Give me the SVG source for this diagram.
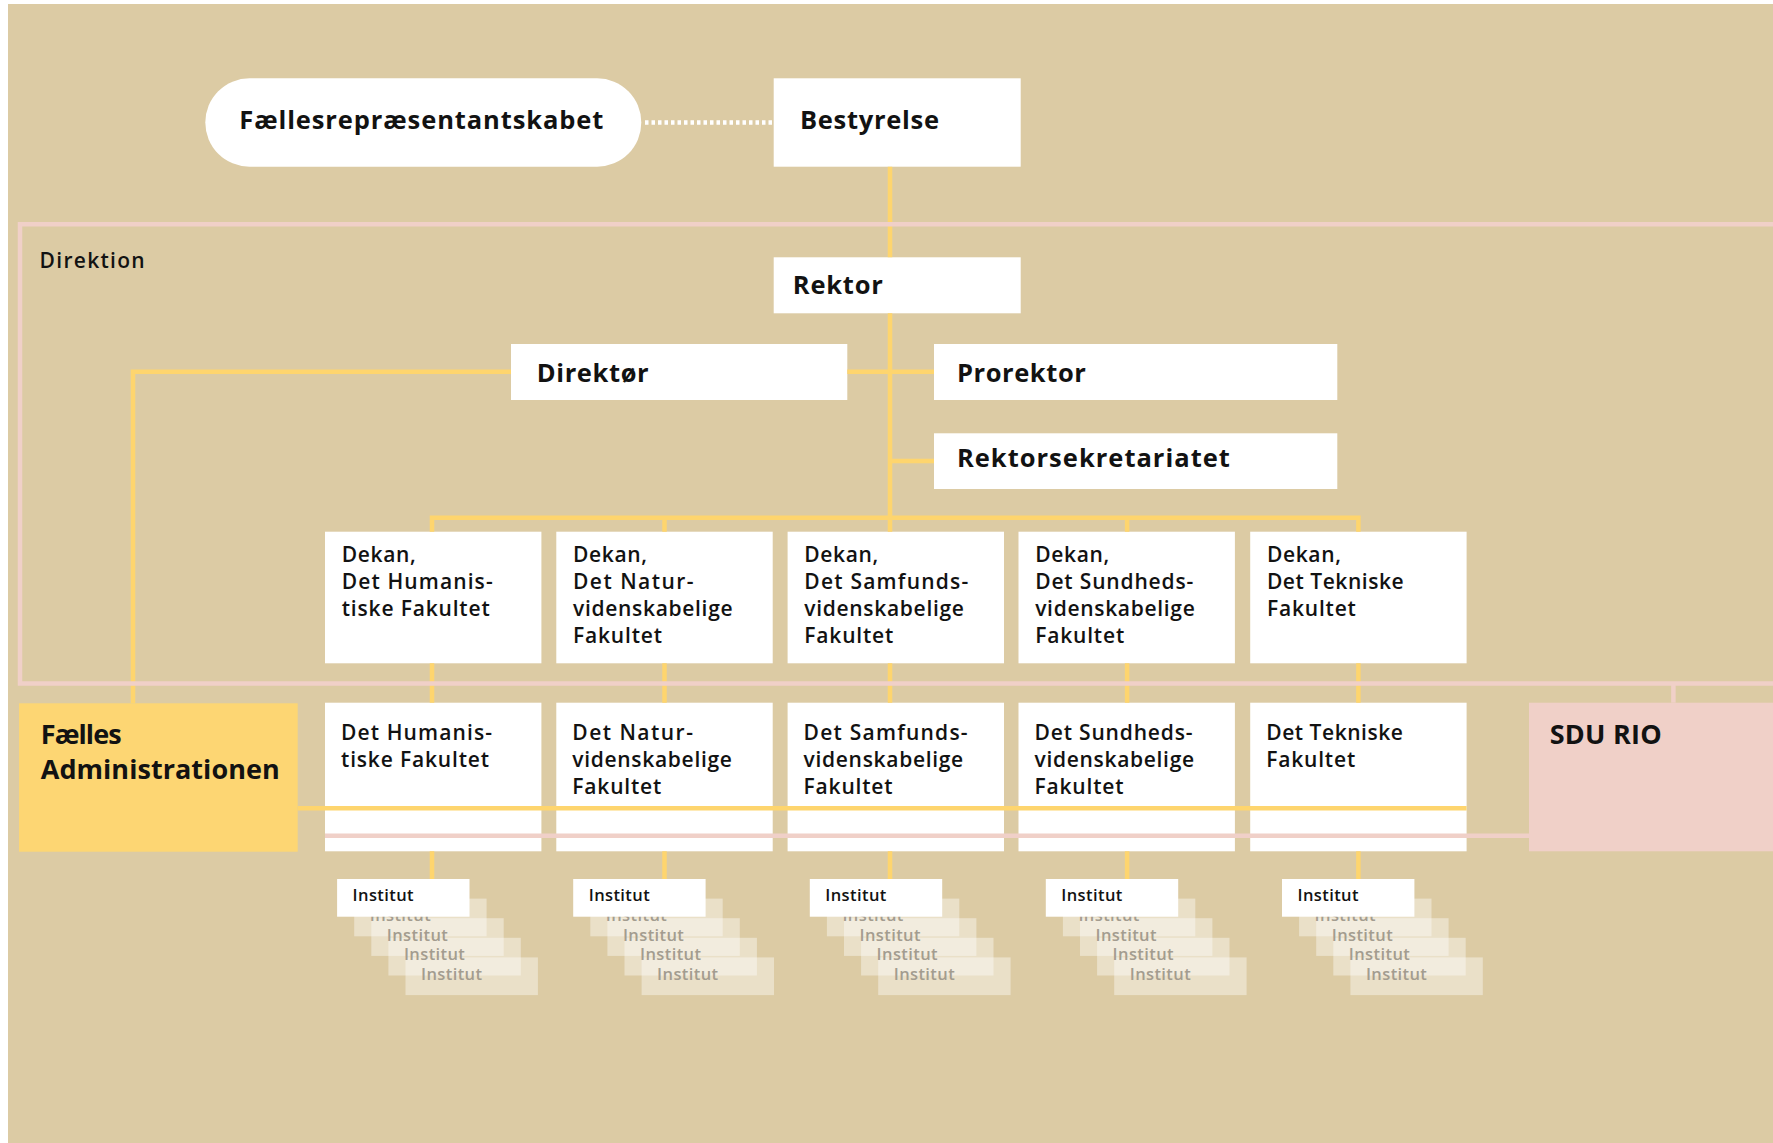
<svg xmlns="http://www.w3.org/2000/svg" width="1773" height="1143" viewBox="0 0 1773 1143">
<style>
text{font-family:'Open Sans','DejaVu Sans',sans-serif;font-weight:600;fill:#121212}
.big{font-size:25.5px;font-weight:700}
.mid{font-size:21px}
.xl{font-size:27px;font-weight:700}
.sm{font-size:16.5px}
.ghost{fill:#a39c8f}
.box{fill:#ffffff}
.yl{fill:none;stroke:#fed56e;stroke-width:4.5}
.pk{fill:none;stroke:#f0d0c8;stroke-width:4.5}
.back{fill:#ffffff;fill-opacity:0.4}
</style>
<rect width="1773" height="1143" fill="#ffffff"/>
<rect x="8" y="4" width="1765" height="1139" fill="#dccba4"/>

<g id="faellesrepraesentantskabet">
<rect class="box" x="205.3" y="78.3" width="436" height="88.4" rx="44.2"/>
<text class="big" x="239.3" y="128.5" textLength="364">Fællesrepræsentantskabet</text>
</g>
<g id="bestyrelse">
<rect class="box" x="773.7" y="78.3" width="247" height="88.4"/>
<text class="big" x="800" y="129" textLength="139">Bestyrelse</text>
</g>
<g id="rektor">
<rect class="box" x="773.7" y="257.3" width="247" height="56"/>
<text class="big" x="792.8" y="294.3" textLength="90">Rektor</text>
</g>
<g id="direktoer">
<rect class="box" x="511" y="344" width="336.3" height="56"/>
<text class="big" x="536.7" y="381.7" textLength="112">Direktør</text>
</g>
<g id="prorektor">
<rect class="box" x="934" y="344" width="403.3" height="56"/>
<text class="big" x="956.9" y="381.7" textLength="129">Prorektor</text>
</g>
<g id="rektorsekretariatet">
<rect class="box" x="934" y="433.3" width="403.3" height="55.7"/>
<text class="big" x="956.9" y="466.5" textLength="273">Rektorsekretariatet</text>
</g>

<g id="dekan-hum">
<rect class="box" x="325" y="531.7" width="216.4" height="131.6"/>
<text class="mid" x="341.7" y="561.7" textLength="74">Dekan,</text>
<text class="mid" x="341.7" y="588.7" textLength="151">Det Humanis-</text>
<text class="mid" x="341.7" y="615.7" textLength="148">tiske Fakultet</text>
</g>
<g id="dekan-nat">
<rect class="box" x="556.3" y="531.7" width="216.4" height="131.6"/>
<text class="mid" x="573" y="561.7" textLength="74">Dekan,</text>
<text class="mid" x="573" y="588.7" textLength="120.6">Det Natur-</text>
<text class="mid" x="573" y="615.7" textLength="159.6">videnskabelige</text>
<text class="mid" x="573" y="642.7" textLength="89">Fakultet</text>
</g>
<g id="dekan-sam">
<rect class="box" x="787.6" y="531.7" width="216.4" height="131.6"/>
<text class="mid" x="804.3" y="561.7" textLength="74">Dekan,</text>
<text class="mid" x="804.3" y="588.7" textLength="164">Det Samfunds-</text>
<text class="mid" x="804.3" y="615.7" textLength="159.6">videnskabelige</text>
<text class="mid" x="804.3" y="642.7" textLength="89">Fakultet</text>
</g>
<g id="dekan-sund">
<rect class="box" x="1018.5" y="531.7" width="216.4" height="131.6"/>
<text class="mid" x="1035.2" y="561.7" textLength="74">Dekan,</text>
<text class="mid" x="1035.2" y="588.7" textLength="158">Det Sundheds-</text>
<text class="mid" x="1035.2" y="615.7" textLength="159.6">videnskabelige</text>
<text class="mid" x="1035.2" y="642.7" textLength="89">Fakultet</text>
</g>
<g id="dekan-tek">
<rect class="box" x="1250.2" y="531.7" width="216.4" height="131.6"/>
<text class="mid" x="1266.9" y="561.7" textLength="74">Dekan,</text>
<text class="mid" x="1266.9" y="588.7" textLength="136.7">Det Tekniske</text>
<text class="mid" x="1266.9" y="615.7" textLength="89">Fakultet</text>
</g>

<g id="faelles-administrationen">
<rect x="19" y="703.3" width="278.7" height="148.4" fill="#fdd673"/>
<text class="xl" x="40.7" y="744.3" textLength="81">Fælles</text>
<text class="xl" x="40.7" y="779" textLength="239">Administrationen</text>
</g>
<g id="fak-hum">
<rect class="box" x="325" y="702.7" width="216.4" height="148.6"/>
<text class="mid" x="341" y="740" textLength="151">Det Humanis-</text>
<text class="mid" x="341" y="767" textLength="148">tiske Fakultet</text>
</g>
<g id="fak-nat">
<rect class="box" x="556.3" y="702.7" width="216.4" height="148.6"/>
<text class="mid" x="572.3" y="740" textLength="120.6">Det Natur-</text>
<text class="mid" x="572.3" y="767" textLength="159.6">videnskabelige</text>
<text class="mid" x="572.3" y="794" textLength="89">Fakultet</text>
</g>
<g id="fak-sam">
<rect class="box" x="787.6" y="702.7" width="216.4" height="148.6"/>
<text class="mid" x="803.6" y="740" textLength="164">Det Samfunds-</text>
<text class="mid" x="803.6" y="767" textLength="159.6">videnskabelige</text>
<text class="mid" x="803.6" y="794" textLength="89">Fakultet</text>
</g>
<g id="fak-sund">
<rect class="box" x="1018.5" y="702.7" width="216.4" height="148.6"/>
<text class="mid" x="1034.5" y="740" textLength="158">Det Sundheds-</text>
<text class="mid" x="1034.5" y="767" textLength="159.6">videnskabelige</text>
<text class="mid" x="1034.5" y="794" textLength="89">Fakultet</text>
</g>
<g id="fak-tek">
<rect class="box" x="1250.2" y="702.7" width="216.4" height="148.6"/>
<text class="mid" x="1266.2" y="740" textLength="136.7">Det Tekniske</text>
<text class="mid" x="1266.2" y="767" textLength="89">Fakultet</text>
</g>
<g id="sdu-rio">
<rect x="1529" y="702.7" width="244" height="148.6" fill="#f0d0c8"/>
<text class="xl" x="1549.7" y="744" textLength="112">SDU RIO</text>
</g>

<g id="institut-hum">
<rect class="back" x="405.5" y="957.4" width="132.4" height="37.7"/>
<rect class="back" x="388.4" y="937.8" width="132.4" height="37.7"/>
<rect class="back" x="371.3" y="918.2" width="132.4" height="37.7"/>
<rect class="back" x="354.2" y="898.6" width="132.4" height="37.7"/>
<text class="sm ghost" x="421" y="979.9" textLength="61">Institut</text>
<text class="sm ghost" x="403.9" y="960.3" textLength="61">Institut</text>
<text class="sm ghost" x="386.8" y="940.7" textLength="61">Institut</text>
<text class="sm ghost" x="369.7" y="921.1" textLength="61">Institut</text>
<rect class="box" x="337.1" y="879" width="132.4" height="37.7"/>
<text class="sm" x="352.6" y="901.4" textLength="61">Institut</text>
</g>
<g id="institut-nat">
<rect class="back" x="641.6" y="957.4" width="132.4" height="37.7"/>
<rect class="back" x="624.5" y="937.8" width="132.4" height="37.7"/>
<rect class="back" x="607.4" y="918.2" width="132.4" height="37.7"/>
<rect class="back" x="590.3" y="898.6" width="132.4" height="37.7"/>
<text class="sm ghost" x="657.1" y="979.9" textLength="61">Institut</text>
<text class="sm ghost" x="640" y="960.3" textLength="61">Institut</text>
<text class="sm ghost" x="622.9" y="940.7" textLength="61">Institut</text>
<text class="sm ghost" x="605.8" y="921.1" textLength="61">Institut</text>
<rect class="box" x="573.2" y="879" width="132.4" height="37.7"/>
<text class="sm" x="588.7" y="901.4" textLength="61">Institut</text>
</g>
<g id="institut-sam">
<rect class="back" x="878.2" y="957.4" width="132.4" height="37.7"/>
<rect class="back" x="861.1" y="937.8" width="132.4" height="37.7"/>
<rect class="back" x="844" y="918.2" width="132.4" height="37.7"/>
<rect class="back" x="826.9" y="898.6" width="132.4" height="37.7"/>
<text class="sm ghost" x="893.7" y="979.9" textLength="61">Institut</text>
<text class="sm ghost" x="876.6" y="960.3" textLength="61">Institut</text>
<text class="sm ghost" x="859.5" y="940.7" textLength="61">Institut</text>
<text class="sm ghost" x="842.4" y="921.1" textLength="61">Institut</text>
<rect class="box" x="809.8" y="879" width="132.4" height="37.7"/>
<text class="sm" x="825.3" y="901.4" textLength="61">Institut</text>
</g>
<g id="institut-sund">
<rect class="back" x="1114.2" y="957.4" width="132.4" height="37.7"/>
<rect class="back" x="1097.1" y="937.8" width="132.4" height="37.7"/>
<rect class="back" x="1080" y="918.2" width="132.4" height="37.7"/>
<rect class="back" x="1062.9" y="898.6" width="132.4" height="37.7"/>
<text class="sm ghost" x="1129.7" y="979.9" textLength="61">Institut</text>
<text class="sm ghost" x="1112.6" y="960.3" textLength="61">Institut</text>
<text class="sm ghost" x="1095.5" y="940.7" textLength="61">Institut</text>
<text class="sm ghost" x="1078.4" y="921.1" textLength="61">Institut</text>
<rect class="box" x="1045.8" y="879" width="132.4" height="37.7"/>
<text class="sm" x="1061.3" y="901.4" textLength="61">Institut</text>
</g>
<g id="institut-tek">
<rect class="back" x="1350.4" y="957.4" width="132.4" height="37.7"/>
<rect class="back" x="1333.3" y="937.8" width="132.4" height="37.7"/>
<rect class="back" x="1316.2" y="918.2" width="132.4" height="37.7"/>
<rect class="back" x="1299.1" y="898.6" width="132.4" height="37.7"/>
<text class="sm ghost" x="1365.9" y="979.9" textLength="61">Institut</text>
<text class="sm ghost" x="1348.8" y="960.3" textLength="61">Institut</text>
<text class="sm ghost" x="1331.7" y="940.7" textLength="61">Institut</text>
<text class="sm ghost" x="1314.6" y="921.1" textLength="61">Institut</text>
<rect class="box" x="1282" y="879" width="132.4" height="37.7"/>
<text class="sm" x="1297.5" y="901.4" textLength="61">Institut</text>
</g>

<g id="connectors">
<path d="M645 122.5 H773" fill="none" stroke="#ffffff" stroke-width="4.5" stroke-dasharray="3.5 3"/>
<path class="yl" d="M890 166.7 V257.3 M890 313.2 V531.7 M847.3 371.7 H934 M890 461 H934"/>
<path class="yl" d="M511 371.7 H133 V703.3"/>
<path class="yl" d="M432 531.7 V517.7 H1358.4 V531.7 M664.5 517.7 V531.7 M1127.1 517.7 V531.7"/>
<path class="yl" d="M432 663.3 V702.7 M664.5 663.3 V702.7 M890 663.3 V702.7 M1127.1 663.3 V702.7 M1358.4 663.3 V702.7"/>
<path class="yl" d="M432 851.3 V879 M664.5 851.3 V879 M890 851.3 V879 M1127.1 851.3 V879 M1358.4 851.3 V879"/>
<path class="yl" d="M297.7 808.3 H1466.6"/>
<path class="pk" d="M325 835.7 H1529"/>
<path class="pk" d="M1673.4 683.5 V702.7"/>
</g>

<g id="direktion">
<path class="pk" d="M1773 224.3 H20 V683.5 H1773"/>
<text class="mid" x="39.6" y="268" textLength="105">Direktion</text>
</g>
</svg>
